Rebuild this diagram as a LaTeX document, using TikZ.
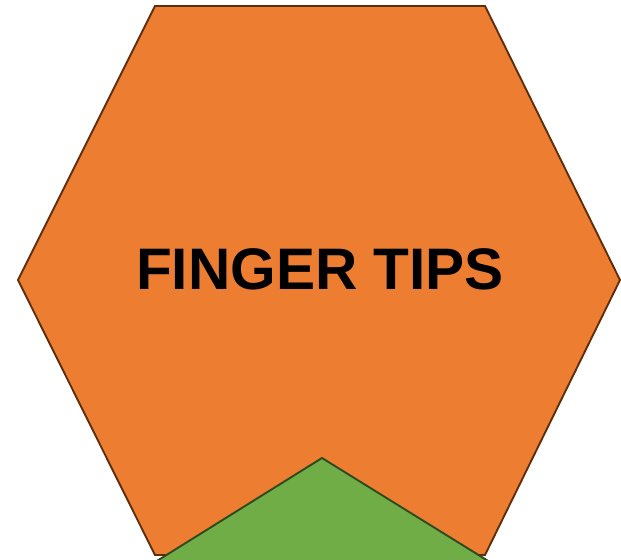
\documentclass[tikz,border=0pt]{standalone}
\usepackage{fontspec}
\setmainfont{Liberation Sans}
\usepackage{tikz}
\usetikzlibrary{positioning}
\definecolor{hexorange}{HTML}{ED7D31}
\definecolor{hexborder}{HTML}{5E2E0C}
\definecolor{hexgreen}{HTML}{70AD47}
\definecolor{greenborder}{HTML}{2D4A1C}
\tikzset{
  hexbody/.style={fill=hexorange, draw=hexborder, line width=1.6pt, line join=miter},
  hexnext/.style={fill=hexgreen, draw=greenborder, line width=1.6pt, line join=miter},
  hexlabel/.style={font=\bfseries\fontsize{50}{56}\selectfont, text=black, inner sep=0pt},
}

\begin{document}
\begin{tikzpicture}[x=0.03cm, y=-0.03cm]
  \useasboundingbox (0,0) rectangle (621,559);
  \clip (0,0) rectangle (621,559);
  % orange hexagon
  \coordinate (tl) at (155,6);
  \coordinate (tr) at (485,6);
  \coordinate (r) at (620,280);
  \coordinate (br) at (485,555);
  \coordinate (bl) at (155,555);
  \coordinate (l) at (18,280);
  \draw[hexbody] (tl) -- (tr) -- (r) -- (br) -- (bl) -- (l) -- cycle;
  % next hexagon peeking in from below
  \coordinate (apex) at (322,458);
  \draw[hexnext] (apex) -- (160,559) -- ++(-40,25) -- (525,584) -- (485,559) -- cycle;
  \node[hexlabel] (title) at (320,269) {FINGER TIPS};
\end{tikzpicture}
\end{document}
